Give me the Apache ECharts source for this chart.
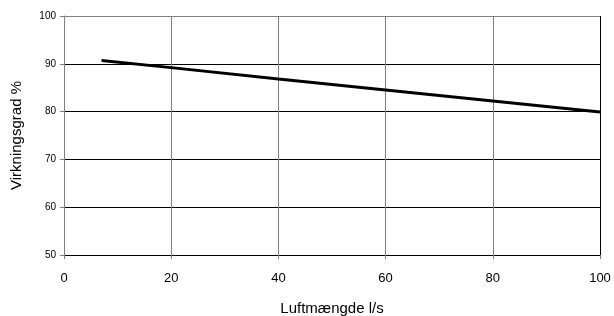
<!DOCTYPE html>
<html>
<head>
<meta charset="utf-8">
<script src="https://cdn.jsdelivr.net/npm/echarts@6/dist/echarts.min.js"></script>
<style>
html, body { margin: 0; padding: 0; background: #fff; }
#chart { width: 614px; height: 316px; }
</style>
</head>
<body>
<div id="chart"></div>
<script>
// luftmængde (l/s) og virkningsgrad (%)
var flow = [7, 20, 40, 60, 80, 100];
var efficiency = [90.7, 89.2, 86.8, 84.5, 82.2, 79.9];

var dom = document.getElementById("chart");
var myChart = echarts.init(dom, null, { renderer: 'canvas' });

var lineData = flow.map(function (x, i) { return [x, efficiency[i]]; });

var option = {
    animation: false,
    textStyle: { fontFamily: '"Liberation Sans", Arial, sans-serif' },
    grid: {
        left: 64,
        right: 14,
        top: 16,
        bottom: 61,
        outerBoundsMode: 'none'
    },
    xAxis: {
        type: 'value',
        min: 0,
        max: 100,
        interval: 20,
        name: 'Luftmængde l/s',
        nameLocation: 'middle',
        nameGap: 46,
        nameTextStyle: { fontSize: 15, color: '#000' },
        axisLine: { show: true, onZero: false, lineStyle: { color: '#000', width: 1 } },
        axisTick: { show: true, length: 4, lineStyle: { color: '#808080' } },
        axisLabel: { fontSize: 13, color: '#000', margin: 17 },
        splitLine: { show: true, lineStyle: { color: '#808080', width: 1 } }
    },
    yAxis: {
        type: 'value',
        min: 50,
        max: 100,
        interval: 10,
        name: 'Virkningsgrad %',
        nameLocation: 'middle',
        nameGap: 40,
        nameTextStyle: { fontSize: 15, color: '#000' },
        axisLine: { show: true, lineStyle: { color: '#808080', width: 1 } },
        axisTick: { show: true, length: 4, lineStyle: { color: '#808080' } },
        axisLabel: { fontSize: 10, color: '#000', margin: 8 },
        splitLine: { show: true, lineStyle: { color: '#000', width: 1 } }
    },
    series: [
        {
            type: 'line',
            data: lineData,
            symbol: 'none',
            lineStyle: { color: '#000', width: 3 }
        },
        {
            // ramme
            type: 'line',
            data: [],
            markLine: {
                silent: true,
                symbol: 'none',
                label: { show: false },
                lineStyle: { type: 'solid', width: 1 },
                data: [
                    { xAxis: 100, lineStyle: { color: '#000' } },
                    { yAxis: 100, lineStyle: { color: '#808080' } }
                ]
            }
        }
    ]
};

if (option && typeof option === "object") {
    myChart.setOption(option, true);
}
</script>
</body>
</html>
